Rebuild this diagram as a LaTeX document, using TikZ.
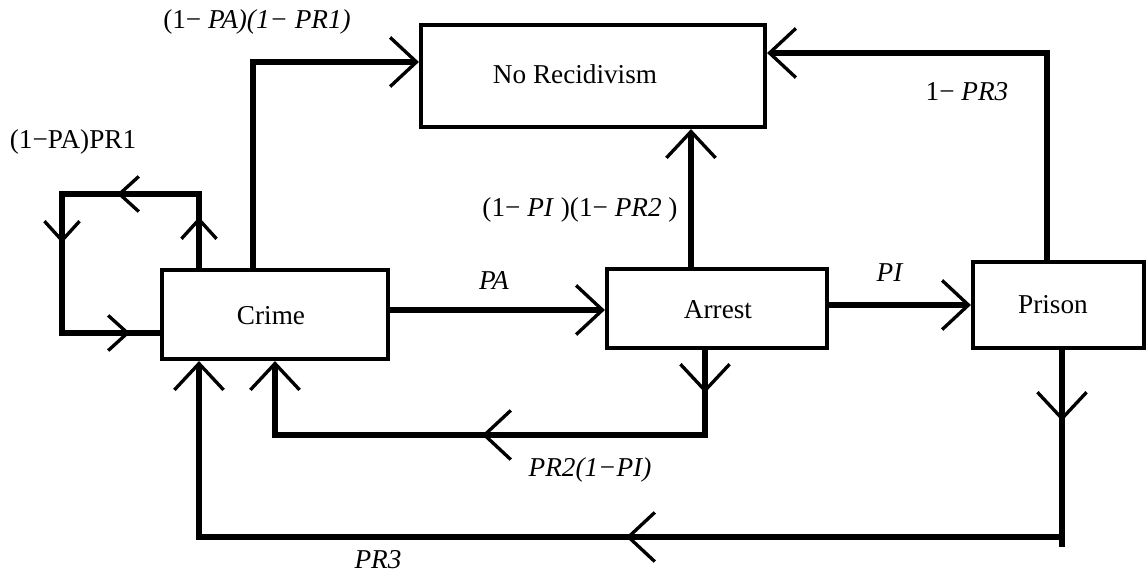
\documentclass[tikz,border=0pt]{standalone}
\usepackage{fontspec}
\setmainfont{Liberation Serif}
\usetikzlibrary{arrows.meta}
\begin{document}
\begin{tikzpicture}[x=0.02cm,y=-0.02cm,
  box/.style={draw, line width=2.4pt, inner sep=0pt},
  lab/.style={inner sep=0pt, font=\fontsize{15.5}{18}\selectfont},
  conn/.style={line width=2.9pt},
  Bigbarb/.tip={Straight Barb[length=15pt,width=28pt,line width=1.9pt]},
  Smallbarb/.tip={Straight Barb[length=11pt,width=20pt,line width=1.9pt]},
  ar/.style={conn,-{Bigbarb}},
  sar/.style={conn,-{Smallbarb}}]
\useasboundingbox (0,0) rectangle (1146,573);
% boxes
\node[box, minimum width=6.88cm, minimum height=2.04cm] (norec) at (593,76) {};
\node[box, minimum width=4.52cm, minimum height=1.78cm] (crime) at (275,314.5) {};
\node[box, minimum width=4.40cm, minimum height=1.58cm] (arrest) at (717,308.5) {};
\node[box, minimum width=3.42cm, minimum height=1.72cm] (prison) at (1058.5,305) {};
\node[lab] (norec-t) at (575,74) {No Recidivism};
\node[lab] (crime-t) at (271,316) {Crime};
\node[lab] (arrest-t) at (718,310) {Arrest};
\node[lab] (prison-t) at (1053,305) {Prison};
% corner coordinates
\coordinate (l1) at (199,194);
\coordinate (l2) at (62,194);
\coordinate (l3) at (62,333);
\coordinate (b1) at (705,435);
\coordinate (c1) at (1062,537);
\coordinate (c2) at (199,537);
% Crime -> No Recidivism
\draw[ar] (253,0 |- crime.north) |- (norec.west |- 0,62);
% self loop
\draw[conn] (199,0 |- crime.north) -- (l1) -- (l2) -- (l3) -- (crime.west |- l3);
\draw[sar] (199,0 |- crime.north) -- (199,217);
\draw[sar] (l1) -- (117,194);
\draw[sar] (l2) -- (62,243);
\draw[sar] (l3) -- (130,333);
% Crime -> Arrest
\draw[ar] (crime.east |- 0,310) -- (arrest.west |- 0,310);
% Arrest -> No Recidivism
\draw[ar] (691,0 |- arrest.north) -- (691,0 |- norec.south);
% Arrest -> Prison
\draw[ar] (arrest.east |- 0,305) -- (prison.west |- 0,305);
% Prison -> No Recidivism
\draw[ar] (1047,0 |- prison.north) |- (norec.east |- 0,53);
% Arrest -> Crime
\draw[ar] (705,0 |- arrest.south) -- (b1) -- (275,435) -- (275,0 |- crime.south);
\draw[ar] (705,0 |- arrest.south) -- (705,393);
\draw[ar] (b1) -- (482,435);
% Prison -> Crime
\draw[ar] (1062,0 |- prison.south) -- (c1) -- (c2) -- (199,0 |- crime.south);
\draw[conn] (c1) -- (1062,547);
\draw[ar] (1062,0 |- prison.south) -- (1062,421);
\draw[ar] (c1) -- (626,537);
% labels
\node[lab] (t1) at (257,22) {(1− \textit{PA)(1− PR1)}};
\node[lab] (t2) at (73,142) {(1−PA)PR1};
\node[lab] (t3) at (494,281) {\textit{PA}};
\node[lab] (t4) at (580,210) {(1− \textit{PI} )(1− \textit{PR2} )};
\node[lab] (t5) at (890,273) {\textit{PI}};
\node[lab] (t6) at (967,92) {1− \textit{PR3}};
\node[lab] (t7) at (590,470) {\textit{PR2(1−PI)}};
\node[lab] (t8) at (378,560) {\textit{PR3}};
\end{tikzpicture}
\end{document}
